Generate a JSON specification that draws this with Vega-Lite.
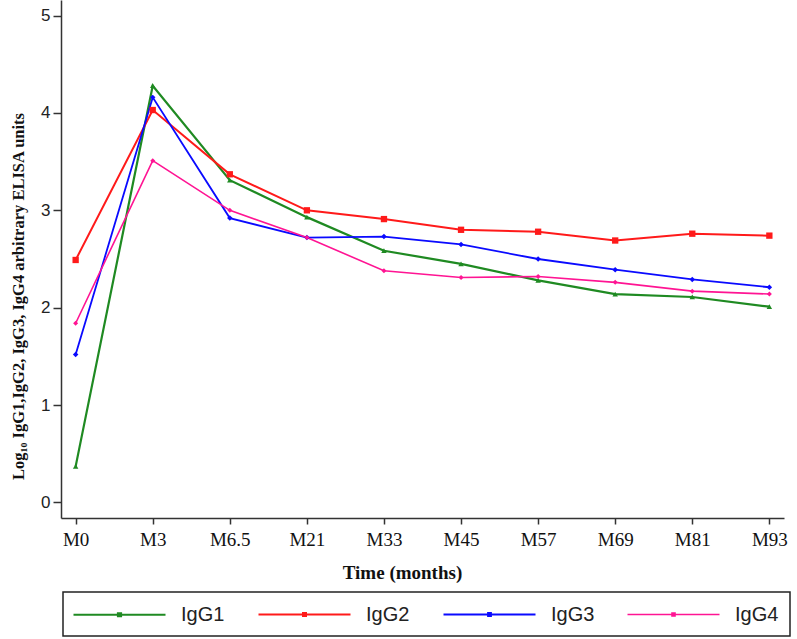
{
  "$schema": "https://vega.github.io/schema/vega-lite/v6.json",
  "width": 723,
  "height": 518,
  "autosize": {"type": "none"},
  "padding": {"left": 61, "top": 0, "right": 13, "bottom": 121},
  "background": "white",
  "config": {"view": {"stroke": null}},
  "data": {
    "values": [
      {"t": "M0", "s": "IgG1", "v": 0.37}, {"t": "M3", "s": "IgG1", "v": 4.28}, {"t": "M6.5", "s": "IgG1", "v": 3.31}, {"t": "M21", "s": "IgG1", "v": 2.93}, {"t": "M33", "s": "IgG1", "v": 2.585}, {"t": "M45", "s": "IgG1", "v": 2.45}, {"t": "M57", "s": "IgG1", "v": 2.28}, {"t": "M69", "s": "IgG1", "v": 2.14}, {"t": "M81", "s": "IgG1", "v": 2.11}, {"t": "M93", "s": "IgG1", "v": 2.01},
      {"t": "M0", "s": "IgG2", "v": 2.49}, {"t": "M3", "s": "IgG2", "v": 4.03}, {"t": "M6.5", "s": "IgG2", "v": 3.37}, {"t": "M21", "s": "IgG2", "v": 3.0}, {"t": "M33", "s": "IgG2", "v": 2.91}, {"t": "M45", "s": "IgG2", "v": 2.8}, {"t": "M57", "s": "IgG2", "v": 2.78}, {"t": "M69", "s": "IgG2", "v": 2.69}, {"t": "M81", "s": "IgG2", "v": 2.76}, {"t": "M93", "s": "IgG2", "v": 2.74},
      {"t": "M0", "s": "IgG3", "v": 1.52}, {"t": "M3", "s": "IgG3", "v": 4.16}, {"t": "M6.5", "s": "IgG3", "v": 2.92}, {"t": "M21", "s": "IgG3", "v": 2.72}, {"t": "M33", "s": "IgG3", "v": 2.73}, {"t": "M45", "s": "IgG3", "v": 2.65}, {"t": "M57", "s": "IgG3", "v": 2.5}, {"t": "M69", "s": "IgG3", "v": 2.39}, {"t": "M81", "s": "IgG3", "v": 2.29}, {"t": "M93", "s": "IgG3", "v": 2.21},
      {"t": "M0", "s": "IgG4", "v": 1.84}, {"t": "M3", "s": "IgG4", "v": 3.51}, {"t": "M6.5", "s": "IgG4", "v": 3.0}, {"t": "M21", "s": "IgG4", "v": 2.72}, {"t": "M33", "s": "IgG4", "v": 2.38}, {"t": "M45", "s": "IgG4", "v": 2.31}, {"t": "M57", "s": "IgG4", "v": 2.32}, {"t": "M69", "s": "IgG4", "v": 2.26}, {"t": "M81", "s": "IgG4", "v": 2.17}, {"t": "M93", "s": "IgG4", "v": 2.14}
    ]
  },
  "encoding": {
    "x": {
      "field": "t",
      "type": "ordinal",
      "sort": ["M0", "M3", "M6.5", "M21", "M33", "M45", "M57", "M69", "M81", "M93"],
      "scale": {"type": "point", "padding": 0.19},
      "axis": {
        "title": "Time (months)",
        "labelAngle": 0,
        "grid": false,
        "domainColor": "#333",
        "domainWidth": 1.5,
        "tickColor": "#333",
        "tickWidth": 1.5,
        "tickSize": 6,
        "labelFont": "Liberation Serif",
        "labelFontSize": 19,
        "labelColor": "#111",
        "labelPadding": 6,
        "titleFont": "Liberation Serif",
        "titleFontSize": 19,
        "titleFontWeight": "bold",
        "titleColor": "#111",
        "titlePadding": 14,
        "titleX": 341
      }
    },
    "y": {
      "field": "v",
      "type": "quantitative",
      "scale": {"domain": [-0.16, 5.16], "nice": false, "zero": false},
      "axis": {
        "title": "Log₁₀ IgG1,IgG2, IgG3, IgG4  arbitrary ELISA units",
        "values": [0, 1, 2, 3, 4, 5],
        "format": "d",
        "grid": false,
        "domainColor": "#333",
        "domainWidth": 1.5,
        "tickColor": "#333",
        "tickWidth": 1.5,
        "tickSize": 8,
        "labelFont": "Liberation Sans",
        "labelFontSize": 17,
        "labelColor": "#222",
        "labelPadding": 3,
        "titleFont": "Liberation Serif",
        "titleFontSize": 16.5,
        "titleFontWeight": "bold",
        "titleColor": "#111",
        "titlePadding": 14,
        "titleY": 296
      }
    }
  },
  "layer": [
    {
      "mark": {"type": "line"},
      "encoding": {
        "color": {
          "field": "s",
          "type": "nominal",
          "scale": {"domain": ["IgG1", "IgG2", "IgG3", "IgG4"], "range": ["#1f8a22", "#ff1a1a", "#0a0aff", "#ff1493"]},
          "legend": {
            "orient": "none",
            "legendX": 2,
            "legendY": 592,
            "direction": "horizontal",
            "columns": 4,
            "title": null,
            "symbolType": "M-1.2,0H8.0M3.25,-0.15H3.55V0.15H3.25Z",
            "symbolSize": 400,
            "symbolStrokeWidth": 2.5,
            "labelFont": "Liberation Sans",
            "labelFontSize": 20,
            "labelColor": "#222",
            "labelOffset": 84,
            "columnPadding": 29,
            "padding": 11,
            "strokeColor": "#222",
            "fillColor": "white",
            "cornerRadius": 0,
            "encode": {"legend": {"update": {"strokeWidth": {"value": 1.5}}}}
          }
        },
        "strokeWidth": {"field": "s", "type": "nominal", "scale": {"domain": ["IgG1", "IgG2", "IgG3", "IgG4"], "range": [2.2, 1.6, 2.2, 2.2]}, "legend": null}
      }
    },
    {
      "transform": [{"filter": "datum.s === 'IgG1'"}],
      "mark": {"type": "point", "shape": "triangle-up", "filled": true, "opacity": 1, "size": 30, "color": "#1f8a22"}
    },
    {
      "transform": [{"filter": "datum.s === 'IgG2'"}],
      "mark": {"type": "point", "shape": "square", "filled": true, "opacity": 1, "size": 40, "color": "#ff1a1a"}
    },
    {
      "transform": [{"filter": "datum.s === 'IgG3'"}],
      "mark": {"type": "point", "shape": "diamond", "filled": true, "opacity": 1, "size": 30, "color": "#0a0aff"}
    },
    {
      "transform": [{"filter": "datum.s === 'IgG4'"}],
      "mark": {"type": "point", "shape": "diamond", "filled": true, "opacity": 1, "size": 25, "color": "#ff1493"}
    }
  ]
}
